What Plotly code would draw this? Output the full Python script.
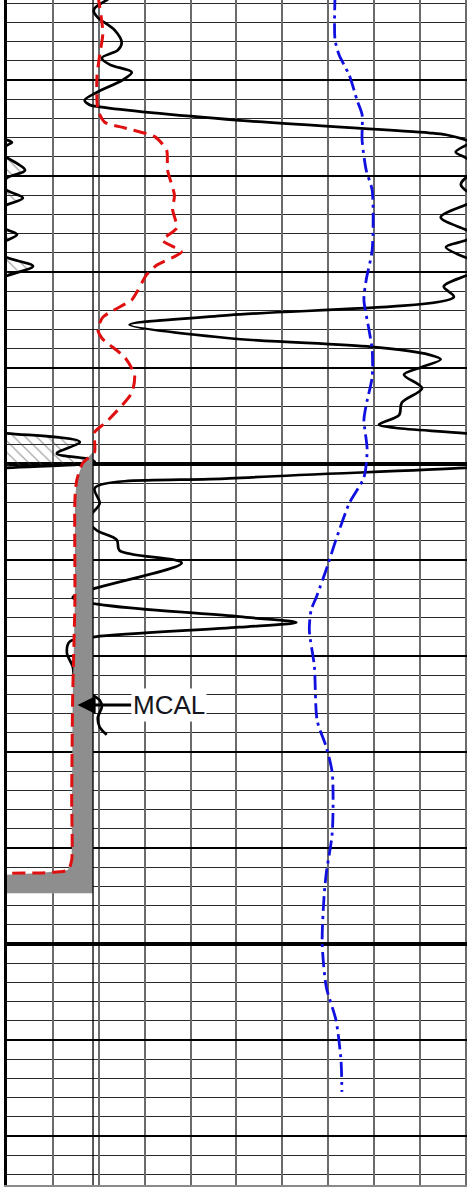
import plotly.graph_objects as go

# ---------------- data ----------------
# Gamma ray (API), wrapped display: 0-150 main, 150-300 backup (hatched)
gr_depth = [5001.15, 5001.67, 5002.5, 5002.9, 5003.5, 5004.8, 5006.1, 5006.9, 5007.7, 5008.4,
            5009.2, 5010.0, 5011.3, 5012.1, 5012.6, 5012.8, 5014.2, 5015.5, 5015.7, 5016.25,
            5016.5, 5016.8, 5017.5, 5018.1, 5019.4, 5020.2, 5020.9, 5021.5, 5022.3, 5023.0,
            5024.3, 5025.6, 5026.1, 5026.7, 5027.4, 5028.5, 5029.4, 5030.4, 5031.5, 5032.6,
            5034.5, 5035.5, 5036.9, 5037.8, 5038.6, 5039.1, 5039.9, 5040.7, 5042.1, 5043.6,
            5044.9, 5045.9, 5046.25, 5046.8, 5047.7, 5048.9, 5049.5, 5049.8, 5050.4, 5051.5,
            5052.5, 5054.1, 5055.8, 5056.9, 5057.9, 5059.0, 5060.3, 5063.9, 5065.9, 5066.5,
            5067.0, 5068.0, 5068.5, 5069.7, 5071.1, 5072.5, 5073.5, 5073.9, 5074.6, 5075.3,
            5076.4, 5077.4, 5078.2]
gr = [35.2, 32.6, 28.7, 28.4, 29.7, 35.2, 37.5, 36.2, 31.0, 33.6,
      40.8, 37.8, 29.3, 25.4, 27.1, 30.3, 76.0, 137.9, 143.5, 150.0,
      151.6, 150.0, 146.7, 150.0, 155.9, 150.0, 148.4, 150.0, 155.2, 150.0,
      141.8, 150.0, 153.3, 150.0, 143.5, 150.0, 158.5, 150.0, 142.8, 146.1,
      72.7, 40.1, 72.7, 119.3, 137.9, 141.8, 135.7, 129.8, 135.7, 129.1,
      128.2, 121.6, 127.2, 150.0, 173.8, 166.3, 177.1, 178.7, 150.0, 72.7,
      28.7, 30.3, 26.4, 29.3, 35.9, 36.8, 57.1, 21.5, 76.0, 94.6,
      76.0, 28.7, 20.5, 19.6, 21.5, 22.2, 25.4, 27.1, 30.3, 31.0,
      29.7, 30.3, 32.6]

# Caliper (in), scale 6-16
cal_depth = [5001.15, 5005.1, 5007.4, 5009.7, 5013.1, 5014.4, 5015.0, 5015.9, 5017.3, 5019.4,
             5022.0, 5023.5, 5025.4, 5026.7, 5027.9, 5029.3, 5030.3, 5032.1, 5032.9, 5034.7,
             5036.0, 5036.9, 5038.9, 5040.7, 5042.6, 5045.6, 5046.7, 5048.75, 5049.9, 5051.7,
             5053.75, 5064.2, 5074.6, 5085.0, 5091.25, 5092.3, 5092.6, 5092.8, 5094.7]
cal = [7.98, 8.09, 8.02, 7.96, 7.98, 8.13, 8.57, 9.22, 9.48, 9.50,
       9.65, 9.61, 9.70, 9.39, 9.80, 9.26, 9.04, 8.83, 8.72, 8.09,
       7.98, 8.07, 8.57, 8.78, 8.72, 8.17, 7.91, 7.91, 7.65, 7.52,
       7.48, 7.48, 7.43, 7.41, 7.41, 7.33, 6.72, 5.96, 5.91]

# Bulk density (g/cc), scale 1.95-2.95
rhob_depth = [5001.15, 5005.8, 5007.4, 5009.5, 5012.1, 5013.6, 5016.25, 5019.4, 5021.5, 5027.7,
              5030.8, 5032.9, 5036.0, 5038.1, 5040.9, 5043.85, 5045.4, 5048.5, 5051.4, 5054.1,
              5057.9, 5060.7, 5063.9, 5065.2, 5067.3, 5071.1, 5076.7, 5079.5, 5082.2, 5088.4,
              5092.6, 5095.1, 5099.9, 5104.5, 5107.9, 5112.1, 5115.4]
rhob = [2.665, 2.665, 2.674, 2.696, 2.713, 2.724, 2.724, 2.733, 2.746, 2.746,
        2.733, 2.728, 2.739, 2.746, 2.746, 2.733, 2.728, 2.735, 2.728, 2.696,
        2.667, 2.648, 2.624, 2.613, 2.609, 2.620, 2.626, 2.646, 2.659, 2.659,
        2.646, 2.641, 2.637, 2.646, 2.667, 2.678, 2.680]

bit_size = 7.875
depth_top, depth_bottom = 5001.667, 5125.1
label_depth, label_cal = 5075.1, 7.54

# ---------------- scales ----------------
frac = 150.4 / 150.0
gr_range = [0, 150 * frac]
cal_range = [6, 6 + 10 * frac]
rhob_range = [1.95, 1.95 + 1.0 * frac]

fig = go.Figure()

# mudcake fill between caliper and bit size
fig.add_trace(go.Scatter(x=[bit_size, bit_size], y=[cal_depth[0], cal_depth[-1]],
                         xaxis='x2', yaxis='y', mode='lines', line=dict(width=0),
                         hoverinfo='skip', showlegend=False))
fig.add_trace(go.Scatter(x=[min(c, bit_size) for c in cal], y=cal_depth,
                         xaxis='x2', yaxis='y', mode='lines', line=dict(width=0),
                         fill='tonextx', fillcolor='#8e8e8e',
                         hoverinfo='skip', showlegend=False))

# GR backup (wrapped) with hatch
fig.add_trace(go.Scatter(x=[g - 150 for g in gr], y=gr_depth, xaxis='x', yaxis='y',
                         mode='lines',
                         line=dict(color='black', width=2.7, shape='spline', smoothing=0.9),
                         fill='tozerox', fillcolor='rgba(0,0,0,0)',
                         fillpattern=dict(shape='\\', fgcolor='#444444', bgcolor='rgba(0,0,0,0)',
                                          size=8, solidity=0.15),
                         showlegend=False))

# bit size line
fig.add_trace(go.Scatter(x=[bit_size, bit_size], y=[depth_top - 1, depth_bottom + 1],
                         xaxis='x2', yaxis='y', mode='lines',
                         line=dict(color='black', width=1.3), showlegend=False))

# caliper
fig.add_trace(go.Scatter(x=cal, y=cal_depth, xaxis='x2', yaxis='y', mode='lines',
                         line=dict(color='#e01010', width=3, dash='13px,7px',
                                   shape='spline', smoothing=0.6),
                         showlegend=False))

# density
fig.add_trace(go.Scatter(x=rhob, y=rhob_depth, xaxis='x3', yaxis='y', mode='lines',
                         line=dict(color='#1010e0', width=2.8, dash='15px,5px,3px,5px',
                                   shape='spline', smoothing=0.7),
                         showlegend=False))

# GR main
fig.add_trace(go.Scatter(x=gr, y=gr_depth, xaxis='x', yaxis='y', mode='lines',
                         line=dict(color='black', width=2.7, shape='spline', smoothing=0.9),
                         showlegend=False))

fig.add_annotation(x=label_cal, y=label_depth, xref='x2', yref='y', text='MCAL',
                   showarrow=True, arrowhead=2, arrowsize=1.2, arrowwidth=3,
                   arrowcolor='black', ax=91, ay=0,
                   font=dict(family='Liberation Sans, Arial', size=26, color='#151520'),
                   bgcolor='white')

fig.update_layout(
    width=467, height=1187,
    margin=dict(l=7, r=0, t=0, b=2),
    paper_bgcolor='white', plot_bgcolor='white',
    showlegend=False,
    xaxis=dict(range=gr_range, tick0=0, dtick=15, showgrid=True, gridcolor='#6b6b6b',
               gridwidth=1.5, showticklabels=False, ticks='', zeroline=False,
               showline=True, linecolor='#8a8a8a', linewidth=1.5, fixedrange=True),
    xaxis2=dict(range=cal_range, overlaying='x', anchor='y', visible=False),
    xaxis3=dict(range=rhob_range, overlaying='x', anchor='y', visible=False),
    yaxis=dict(range=[depth_bottom, depth_top], tick0=0, dtick=10, showgrid=True,
               gridcolor='black', gridwidth=2.2, showticklabels=False, ticks='',
               zeroline=False, showline=True, linecolor='black', linewidth=3,
               minor=dict(dtick=2, tick0=0, showgrid=True, gridcolor='#2a2a2a', gridwidth=1.3)),
    yaxis2=dict(range=[depth_bottom, depth_top], overlaying='y', tick0=0, dtick=50,
                showgrid=True, gridcolor='black', gridwidth=3.5, showticklabels=False,
                ticks='', zeroline=False, showline=False),
)

# dummy trace so yaxis2 is rendered
fig.add_trace(go.Scatter(x=[None], y=[None], xaxis='x', yaxis='y2', showlegend=False))

fig.write_html("out.html", config={'displayModeBar': False},
               post_script="document.body.style.margin='0';document.body.style.overflow='hidden';")
